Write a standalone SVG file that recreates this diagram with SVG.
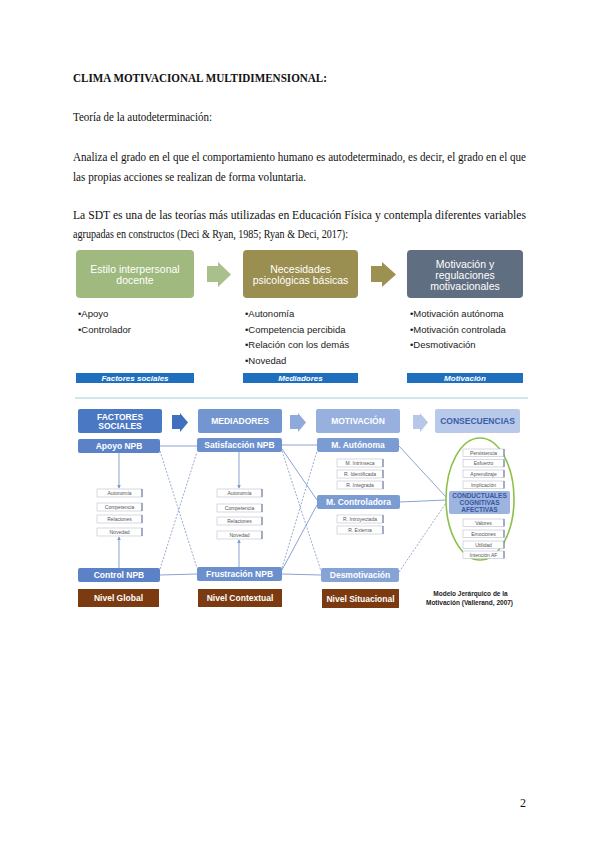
<svg xmlns="http://www.w3.org/2000/svg" width="600" height="848" viewBox="0 0 600 848">
<style>
.body{font-family:"Liberation Serif","Times New Roman",serif;font-size:12px;fill:#111}
.sans{font-family:"Liberation Sans",Arial,sans-serif}
.hd{font-family:"Liberation Sans",Arial,sans-serif;font-size:10.5px;fill:#fff;text-anchor:middle}
.bul{font-family:"Liberation Sans",Arial,sans-serif;font-size:9.5px;fill:#222}
.bar{fill:#1f6fbf}
.bart{font-family:"Liberation Sans",Arial,sans-serif;font-size:8px;font-weight:bold;font-style:italic;fill:#fff;text-anchor:middle}
.wt{font-family:"Liberation Sans",Arial,sans-serif;font-size:8.5px;font-weight:bold;fill:#fff;text-anchor:middle}
.sb{fill:#fff;stroke:#b8c0d0;stroke-width:0.6}
.sbe{stroke:#5a6d95;stroke-width:1}
.st{font-family:"Liberation Sans",Arial,sans-serif;font-size:5px;fill:#555;text-anchor:middle}
.ln{stroke:#7e98c8;stroke-width:0.9;fill:none}
.dl{stroke:#8aa2cc;stroke-width:0.9;fill:none;stroke-dasharray:2 1.5}
.niv{fill:#7b3a10}
</style>
<defs>
<marker id="ah" viewBox="0 0 6 6" refX="5" refY="3" markerWidth="4" markerHeight="4" orient="auto">
<path d="M0,0 L6,3 L0,6 z" fill="#7e98c8"/>
</marker>
</defs>

<g id="text-block">
<text class="body" x="73" y="82" font-weight="bold" textLength="254" lengthAdjust="spacingAndGlyphs">CLIMA MOTIVACIONAL MULTIDIMENSIONAL:</text>
<text class="body" x="73" y="121" textLength="139" lengthAdjust="spacingAndGlyphs">Teoría de la autodeterminación:</text>
<text class="body" x="73" y="161" textLength="453" lengthAdjust="spacingAndGlyphs">Analiza el grado en el que el comportamiento humano es autodeterminado, es decir, el grado en el que</text>
<text class="body" x="73" y="181" textLength="233" lengthAdjust="spacingAndGlyphs">las propias acciones se realizan de forma voluntaria.</text>
<text class="body" x="73" y="219" textLength="453" lengthAdjust="spacingAndGlyphs">La SDT es una de las teorías más utilizadas en Educación Física y contempla diferentes variables</text>
<text class="body" x="73" y="238" textLength="275" lengthAdjust="spacingAndGlyphs">agrupadas en constructos (Deci &amp; Ryan, 1985; Ryan &amp; Deci, 2017):</text>
</g>

<!-- Diagram 1 -->
<g id="d1-box1">
<rect x="76" y="250" width="118" height="48" rx="4" fill="#9fb97f"/>
<text class="hd" x="135" y="273">Estilo interpersonal</text>
<text class="hd" x="135" y="284">docente</text>
</g>
<g id="d1-arrow1"><path d="M207,266 H218 V262 L231,274.5 L218,287 V282 H207 z" fill="#a9c08d"/></g>
<g id="d1-box2">
<rect x="243" y="250" width="115" height="48" rx="4" fill="#9a8e50"/>
<text class="hd" x="300.5" y="273">Necesidades</text>
<text class="hd" x="300.5" y="284">psicológicas básicas</text>
</g>
<g id="d1-arrow2"><path d="M371,266 H382 V262 L396,274.5 L382,287 V282 H371 z" fill="#9d9152"/></g>
<g id="d1-box3">
<rect x="407" y="250" width="116" height="48" rx="4" fill="#5f6e81"/>
<text class="hd" x="465" y="267.5">Motivación y</text>
<text class="hd" x="465" y="278.5">regulaciones</text>
<text class="hd" x="465" y="289.5">motivacionales</text>
</g>
<g id="d1-list1">
<text class="bul" x="78" y="316.5">•Apoyo</text>
<text class="bul" x="78" y="332.5">•Controlador</text>
</g>
<g id="d1-list2">
<text class="bul" x="245" y="316.5">•Autonomía</text>
<text class="bul" x="245" y="332.5">•Competencia percibida</text>
<text class="bul" x="245" y="348">•Relación con los demás</text>
<text class="bul" x="245" y="364">•Novedad</text>
</g>
<g id="d1-list3">
<text class="bul" x="410" y="316.5">•Motivación autónoma</text>
<text class="bul" x="410" y="332.5">•Motivación controlada</text>
<text class="bul" x="410" y="348">•Desmotivación</text>
</g>
<g id="d1-bar1"><rect class="bar" x="76" y="373" width="118" height="10"/><text class="bart" x="135" y="381">Factores sociales</text></g>
<g id="d1-bar2"><rect class="bar" x="243" y="373" width="115" height="10"/><text class="bart" x="300.5" y="381">Mediadores</text></g>
<g id="d1-bar3"><rect class="bar" x="407" y="373" width="116" height="10"/><text class="bart" x="465" y="381">Motivación</text></g>

<line x1="75" y1="398" x2="528" y2="398" stroke="#9fd0d8" stroke-width="1"/>

<!-- Diagram 2 connectors -->
<g id="connectors">
<line class="ln" x1="160" y1="446" x2="197" y2="446"/>
<line class="ln" x1="282" y1="445" x2="317" y2="445"/>
<line class="ln" x1="160" y1="575" x2="197" y2="574"/>
<line class="ln" x1="282" y1="574" x2="321" y2="575"/>
<line class="ln" x1="282" y1="449" x2="317" y2="500"/>
<line class="ln" x1="282" y1="570" x2="317" y2="505"/>
<line class="ln" x1="399" y1="446" x2="446" y2="497"/>
<line class="ln" x1="400" y1="502" x2="446" y2="500"/>
<line class="dl" x1="160" y1="451" x2="197" y2="568"/>
<line class="dl" x1="160" y1="569" x2="197" y2="452"/>
<line class="dl" x1="282" y1="451" x2="321" y2="571"/>
<line class="dl" x1="282" y1="568" x2="317" y2="451"/>
<line class="dl" x1="399" y1="572" x2="446" y2="503"/>
<line class="ln" x1="119" y1="453" x2="119" y2="488" marker-end="url(#ah)"/>
<line class="ln" x1="119" y1="568" x2="119" y2="537" marker-end="url(#ah)"/>
<line class="ln" x1="239" y1="452" x2="239" y2="488" marker-end="url(#ah)"/>
<line class="ln" x1="239" y1="567" x2="239" y2="540" marker-end="url(#ah)"/>
</g>

<!-- Header row -->
<g id="h-factores">
<rect x="78" y="409" width="84" height="24" rx="2" fill="#4a78c2"/>
<text class="wt" x="120" y="419.5" font-size="8.3">FACTORES</text>
<text class="wt" x="120" y="428.7" font-size="8.3">SOCIALES</text>
</g>
<g id="h-arrow1"><path d="M172,415 H180 V413 L188,422.5 L180,432 V429 H172 z" fill="#3f6fbe"/></g>
<g id="h-mediadores">
<rect x="198" y="409" width="84" height="24" rx="2" fill="#7396d0"/>
<text class="wt" x="240" y="424" font-size="8.3">MEDIADORES</text>
</g>
<g id="h-arrow2"><path d="M290,415 H298 V413 L306,422.5 L298,432 V429 H290 z" fill="#8eaadc"/></g>
<g id="h-motivacion">
<rect x="316" y="409" width="84" height="24" rx="2" fill="#97b0de"/>
<text class="wt" x="358" y="424" font-size="8.3">MOTIVACIÓN</text>
</g>
<g id="h-arrow3"><path d="M413,415 H420 V413 L428,422.5 L420,432 V429 H413 z" fill="#b6c7e8"/></g>
<g id="h-consecuencias">
<rect x="435" y="409" width="85" height="24" rx="2" fill="#b8c9e9"/>
<text class="wt" x="477.5" y="424" font-size="8.6" fill="#3a5ea8" style="fill:#3a5ea8">CONSECUENCIAS</text>
</g>

<!-- Main nodes -->
<g id="apoyo-npb"><rect x="78" y="439" width="82" height="14" rx="2" fill="#5b82c6"/><text class="wt" x="119" y="449">Apoyo NPB</text></g>
<g id="satisfaccion-npb"><rect x="197" y="438" width="85" height="14" rx="2" fill="#6c8fcd"/><text class="wt" x="239.5" y="448">Satisfacción NPB</text></g>
<g id="m-autonoma"><rect x="317" y="438" width="82" height="14" rx="2" fill="#7b9bd3"/><text class="wt" x="358" y="448">M. Autónoma</text></g>
<g id="m-controladora"><rect x="317" y="495" width="83" height="14" rx="2" fill="#7b9bd3"/><text class="wt" x="358.5" y="505">M. Controladora</text></g>
<g id="desmotivacion"><rect x="321" y="568" width="78" height="14" rx="2" fill="#86a3d6"/><text class="wt" x="360" y="578">Desmotivación</text></g>
<g id="control-npb"><rect x="78" y="568" width="82" height="14" rx="2" fill="#5b82c6"/><text class="wt" x="119" y="578">Control NPB</text></g>
<g id="frustracion-npb"><rect x="197" y="567" width="85" height="14" rx="2" fill="#6c8fcd"/><text class="wt" x="239.5" y="577">Frustración NPB</text></g>

<g id="nivel-global"><rect class="niv" x="78" y="589" width="81" height="18"/><text class="wt" x="118.5" y="601">Nivel Global</text></g>
<g id="nivel-contextual"><rect class="niv" x="198" y="589" width="84" height="18"/><text class="wt" x="240" y="601">Nivel Contextual</text></g>
<g id="nivel-situacional"><rect class="niv" x="322" y="589" width="77" height="19"/><text class="wt" x="360.5" y="601.5">Nivel Situacional</text></g>

<!-- small boxes col1 -->
<g id="c1-items">
<rect class="sb" x="97" y="489" width="45" height="8"/><line class="sbe" x1="142" y1="489" x2="142" y2="497"/><text class="st" x="119.5" y="494.8">Autonomía</text>
<rect class="sb" x="97" y="503" width="45" height="8"/><line class="sbe" x1="142" y1="503" x2="142" y2="511"/><text class="st" x="119.5" y="508.8">Competencia</text>
<rect class="sb" x="97" y="515" width="45" height="8"/><line class="sbe" x1="142" y1="515" x2="142" y2="523"/><text class="st" x="119.5" y="520.8">Relaciones</text>
<rect class="sb" x="97" y="528" width="45" height="8"/><line class="sbe" x1="142" y1="528" x2="142" y2="536"/><text class="st" x="119.5" y="533.8">Novedad</text>
</g>
<g id="c2-items">
<rect class="sb" x="217" y="489" width="45" height="8"/><line class="sbe" x1="262" y1="489" x2="262" y2="497"/><text class="st" x="239.5" y="494.8">Autonomía</text>
<rect class="sb" x="217" y="504" width="45" height="8"/><line class="sbe" x1="262" y1="504" x2="262" y2="512"/><text class="st" x="239.5" y="509.8">Competencia</text>
<rect class="sb" x="217" y="517" width="45" height="8"/><line class="sbe" x1="262" y1="517" x2="262" y2="525"/><text class="st" x="239.5" y="522.8">Relaciones</text>
<rect class="sb" x="217" y="531" width="45" height="8"/><line class="sbe" x1="262" y1="531" x2="262" y2="539"/><text class="st" x="239.5" y="536.8">Novedad</text>
</g>
<g id="c3-items">
<rect class="sb" x="337" y="459" width="46" height="8"/><line class="sbe" x1="383" y1="459" x2="383" y2="467"/><text class="st" x="360" y="464.8">M. Intrínseca</text>
<rect class="sb" x="337" y="470" width="46" height="8"/><line class="sbe" x1="383" y1="470" x2="383" y2="478"/><text class="st" x="360" y="475.8">R. Identificada</text>
<rect class="sb" x="337" y="481" width="46" height="8"/><line class="sbe" x1="383" y1="481" x2="383" y2="489"/><text class="st" x="360" y="486.8">R. Integrada</text>
<rect class="sb" x="337" y="515" width="46" height="8"/><line class="sbe" x1="383" y1="515" x2="383" y2="523"/><text class="st" x="360" y="520.8">R. Introyectada</text>
<rect class="sb" x="337" y="526" width="46" height="8"/><line class="sbe" x1="383" y1="526" x2="383" y2="534"/><text class="st" x="360" y="531.8">R. Externa</text>
</g>

<!-- consequences -->
<g id="consecuencias">
<ellipse cx="480" cy="499" rx="34" ry="61" fill="none" stroke="#8cc04a" stroke-width="1.6"/>
<rect class="sb" x="463" y="449" width="41" height="7.5"/><line class="sbe" x1="504" y1="449" x2="504" y2="456.5"/><text class="st" x="483.5" y="454.5">Persistencia</text>
<rect class="sb" x="463" y="459.5" width="41" height="7.5"/><line class="sbe" x1="504" y1="459.5" x2="504" y2="467"/><text class="st" x="483.5" y="465">Esfuerzo</text>
<rect class="sb" x="463" y="470" width="41" height="7.5"/><line class="sbe" x1="504" y1="470" x2="504" y2="477.5"/><text class="st" x="483.5" y="475.5">Aprendizaje</text>
<rect class="sb" x="463" y="481" width="41" height="7.5"/><line class="sbe" x1="504" y1="481" x2="504" y2="488.5"/><text class="st" x="483.5" y="486.5">Implicación</text>
<rect x="449" y="491" width="61" height="23" rx="2" fill="#9db4de"/>
<text class="sans" x="479.5" y="497.5" font-size="6.5" font-weight="bold" fill="#3556a0" text-anchor="middle">CONDUCTUALES</text>
<text class="sans" x="479.5" y="504.5" font-size="6.5" font-weight="bold" fill="#3556a0" text-anchor="middle">COGNITIVAS</text>
<text class="sans" x="479.5" y="511.5" font-size="6.5" font-weight="bold" fill="#3556a0" text-anchor="middle">AFECTIVAS</text>
<rect class="sb" x="463" y="519" width="41" height="7.5"/><line class="sbe" x1="504" y1="519" x2="504" y2="526.5"/><text class="st" x="483.5" y="524.5">Valores</text>
<rect class="sb" x="463" y="530" width="41" height="7.5"/><line class="sbe" x1="504" y1="530" x2="504" y2="537.5"/><text class="st" x="483.5" y="535.5">Emociones</text>
<rect class="sb" x="463" y="541" width="41" height="7.5"/><line class="sbe" x1="504" y1="541" x2="504" y2="548.5"/><text class="st" x="483.5" y="546.5">Utilidad</text>
<rect class="sb" x="463" y="551" width="41" height="7.5"/><line class="sbe" x1="504" y1="551" x2="504" y2="558.5"/><text class="st" x="483.5" y="556.5">Intención AF</text>
</g>

<g id="caption">
<text class="sans" x="470.5" y="595.5" font-size="6.5" font-weight="bold" fill="#222" text-anchor="middle">Modelo Jerárquico de la</text>
<text class="sans" x="469.5" y="604.5" font-size="6.5" font-weight="bold" fill="#222" text-anchor="middle">Motivación (Vallerand, 2007)</text>
</g>

<text class="body" x="520" y="807">2</text>
</svg>
